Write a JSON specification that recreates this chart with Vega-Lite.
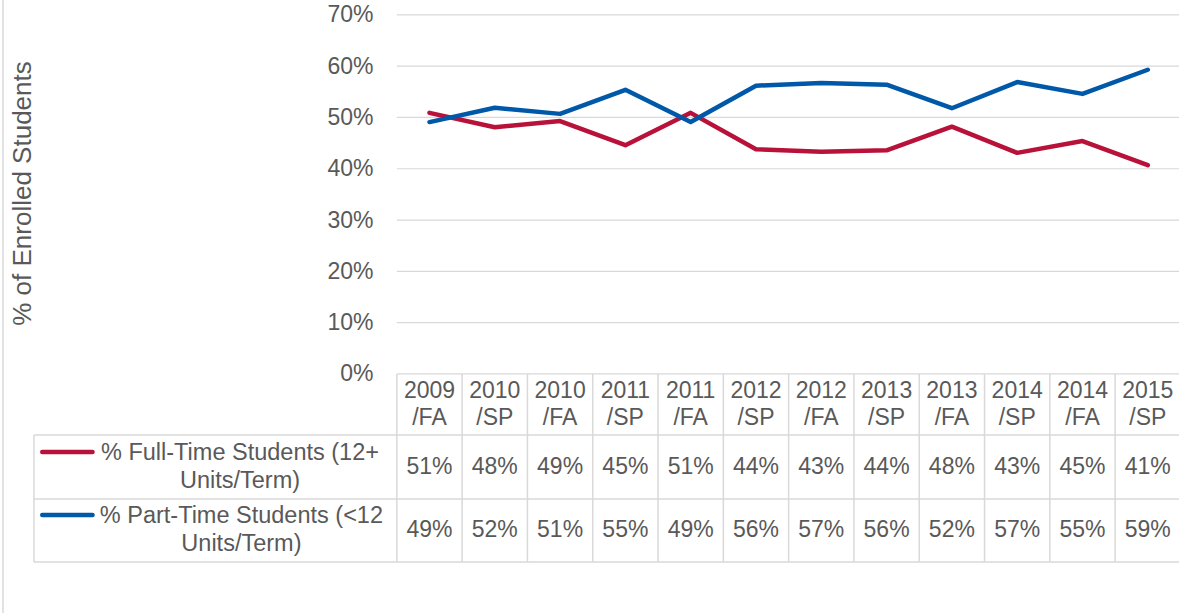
{
  "$schema": "https://vega.github.io/schema/vega-lite/v6.json",
  "width": 1176,
  "height": 613,
  "autosize": {"type": "none"},
  "padding": {"left": 3, "top": 0, "right": 0, "bottom": 0},
  "background": "white",
  "config": {"view": {"stroke": null}, "font": "Liberation Sans"},
  "datasets": {
    "enrollment": [
      {"term": "2009/FA", "idx": 0, "series": "% Full-Time Students (12+ Units/Term)", "value": 0.509},
      {"term": "2010/SP", "idx": 1, "series": "% Full-Time Students (12+ Units/Term)", "value": 0.481},
      {"term": "2010/FA", "idx": 2, "series": "% Full-Time Students (12+ Units/Term)", "value": 0.493},
      {"term": "2011/SP", "idx": 3, "series": "% Full-Time Students (12+ Units/Term)", "value": 0.446},
      {"term": "2011/FA", "idx": 4, "series": "% Full-Time Students (12+ Units/Term)", "value": 0.509},
      {"term": "2012/SP", "idx": 5, "series": "% Full-Time Students (12+ Units/Term)", "value": 0.438},
      {"term": "2012/FA", "idx": 6, "series": "% Full-Time Students (12+ Units/Term)", "value": 0.433},
      {"term": "2013/SP", "idx": 7, "series": "% Full-Time Students (12+ Units/Term)", "value": 0.436},
      {"term": "2013/FA", "idx": 8, "series": "% Full-Time Students (12+ Units/Term)", "value": 0.482},
      {"term": "2014/SP", "idx": 9, "series": "% Full-Time Students (12+ Units/Term)", "value": 0.431},
      {"term": "2014/FA", "idx": 10, "series": "% Full-Time Students (12+ Units/Term)", "value": 0.454},
      {"term": "2015/SP", "idx": 11, "series": "% Full-Time Students (12+ Units/Term)", "value": 0.407},
      {"term": "2009/FA", "idx": 0, "series": "% Part-Time Students (<12 Units/Term)", "value": 0.491},
      {"term": "2010/SP", "idx": 1, "series": "% Part-Time Students (<12 Units/Term)", "value": 0.519},
      {"term": "2010/FA", "idx": 2, "series": "% Part-Time Students (<12 Units/Term)", "value": 0.507},
      {"term": "2011/SP", "idx": 3, "series": "% Part-Time Students (<12 Units/Term)", "value": 0.554},
      {"term": "2011/FA", "idx": 4, "series": "% Part-Time Students (<12 Units/Term)", "value": 0.491},
      {"term": "2012/SP", "idx": 5, "series": "% Part-Time Students (<12 Units/Term)", "value": 0.562},
      {"term": "2012/FA", "idx": 6, "series": "% Part-Time Students (<12 Units/Term)", "value": 0.567},
      {"term": "2013/SP", "idx": 7, "series": "% Part-Time Students (<12 Units/Term)", "value": 0.564},
      {"term": "2013/FA", "idx": 8, "series": "% Part-Time Students (<12 Units/Term)", "value": 0.518},
      {"term": "2014/SP", "idx": 9, "series": "% Part-Time Students (<12 Units/Term)", "value": 0.569},
      {"term": "2014/FA", "idx": 10, "series": "% Part-Time Students (<12 Units/Term)", "value": 0.546},
      {"term": "2015/SP", "idx": 11, "series": "% Part-Time Students (<12 Units/Term)", "value": 0.593}
    ]
  },
  "data": {"name": "enrollment"},
  "layer": [
    {
      "data": {"values": [{"level": 0}, {"level": 0.1}, {"level": 0.2}, {"level": 0.3}, {"level": 0.4}, {"level": 0.5}, {"level": 0.6}, {"level": 0.7}]},
      "mark": {"type": "rule", "color": "#D9D9D9", "strokeWidth": 1.2},
      "encoding": {
        "x": {"datum": -0.5, "type": "quantitative", "scale": {"domain": [-6.531, 11.478], "nice": false, "zero": false}, "axis": null},
        "x2": {"datum": 11.5},
        "y": {
          "field": "level",
          "type": "quantitative",
          "scale": {"domain": [-0.466, 0.729], "nice": false, "zero": false},
          "axis": {
            "title": "% of Enrolled Students",
            "values": [0, 0.1, 0.2, 0.3, 0.4, 0.5, 0.6, 0.7],
            "format": ".0%",
            "offset": -394,
            "ticks": false,
            "domain": false,
            "grid": false,
            "labelPadding": 24,
            "labelFontSize": 23,
            "labelColor": "#595959",
            "labelFont": "Liberation Sans",
            "labelFlush": false,
            "labelOverlap": false,
            "titleFont": "Liberation Sans",
            "titleFontSize": 26,
            "titleFontWeight": "normal",
            "titleColor": "#595959",
            "titleAngle": -90,
            "titleAlign": "center",
            "titleBaseline": "middle",
            "titleX": -375,
            "titleY": 193
          }
        }
      }
    },
    {
      "data": {"values": [{}]},
      "mark": {"type": "rule", "color": "#D9D9D9", "strokeWidth": 1.5},
      "encoding": {
        "x": {"datum": -6.057, "type": "quantitative", "scale": {"domain": [-6.531, 11.478], "nice": false, "zero": false}, "axis": null},
        "x2": {"datum": 11.5},
        "y": {"datum": -0.1189, "type": "quantitative", "scale": {"domain": [-0.466, 0.729], "nice": false, "zero": false}}
      }
    },
    {
      "data": {"values": [{}]},
      "mark": {"type": "rule", "color": "#D9D9D9", "strokeWidth": 1.5},
      "encoding": {
        "x": {"datum": -6.057, "type": "quantitative", "scale": {"domain": [-6.531, 11.478], "nice": false, "zero": false}, "axis": null},
        "x2": {"datum": 11.5},
        "y": {"datum": -0.2437, "type": "quantitative", "scale": {"domain": [-0.466, 0.729], "nice": false, "zero": false}}
      }
    },
    {
      "data": {"values": [{}]},
      "mark": {"type": "rule", "color": "#D9D9D9", "strokeWidth": 1.5},
      "encoding": {
        "x": {"datum": -6.057, "type": "quantitative", "scale": {"domain": [-6.531, 11.478], "nice": false, "zero": false}, "axis": null},
        "x2": {"datum": 11.5},
        "y": {"datum": -0.3665, "type": "quantitative", "scale": {"domain": [-0.466, 0.729], "nice": false, "zero": false}}
      }
    },
    {
      "transform": [
        {"filter": "datum.series === '% Full-Time Students (12+ Units/Term)'"},
        {"calculate": "datum.idx - 0.5", "as": "edge"}
      ],
      "mark": {"type": "rule", "color": "#D9D9D9", "strokeWidth": 1.5},
      "encoding": {
        "x": {"field": "edge", "type": "quantitative", "scale": {"domain": [-6.531, 11.478], "nice": false, "zero": false}, "axis": null},
        "y": {"datum": 0, "type": "quantitative", "scale": {"domain": [-0.466, 0.729], "nice": false, "zero": false}},
        "y2": {"datum": -0.3665}
      }
    },
    {
      "data": {"values": [{}]},
      "mark": {"type": "rule", "color": "#D9D9D9", "strokeWidth": 1.5},
      "encoding": {
        "x": {"datum": -6.057, "type": "quantitative", "scale": {"domain": [-6.531, 11.478], "nice": false, "zero": false}, "axis": null},
        "y": {"datum": -0.1189, "type": "quantitative", "scale": {"domain": [-0.466, 0.729], "nice": false, "zero": false}},
        "y2": {"datum": -0.3665}
      }
    },
    {
      "data": {"values": [{}]},
      "mark": {"type": "rule", "color": "#D9D9D9", "strokeWidth": 1.5},
      "encoding": {
        "x": {"datum": -6.531, "type": "quantitative", "scale": {"domain": [-6.531, 11.478], "nice": false, "zero": false}, "axis": null},
        "y": {"datum": 0.729, "type": "quantitative", "scale": {"domain": [-0.466, 0.729], "nice": false, "zero": false}},
        "y2": {"datum": -0.466}
      }
    },
    {
      "mark": {"type": "line", "strokeWidth": 4.5, "strokeCap": "round", "strokeJoin": "round"},
      "encoding": {
        "x": {"field": "idx", "type": "quantitative", "scale": {"domain": [-6.531, 11.478], "nice": false, "zero": false}, "axis": null},
        "y": {"field": "value", "type": "quantitative", "scale": {"domain": [-0.466, 0.729], "nice": false, "zero": false}},
        "color": {
          "field": "series",
          "type": "nominal",
          "scale": {"domain": ["% Full-Time Students (12+ Units/Term)", "% Part-Time Students (<12 Units/Term)"], "range": ["#B8123A", "#0058A9"]},
          "legend": null
        }
      }
    },
    {
      "transform": [
        {"filter": "datum.series === '% Full-Time Students (12+ Units/Term)'"},
        {"calculate": "replace(datum.term, '/', '\\n/')", "as": "header"}
      ],
      "mark": {"type": "text", "align": "center", "baseline": "middle", "lineBreak": "\n", "lineHeight": 27, "dy": -13.5, "fontSize": 23, "font": "Liberation Sans", "color": "#595959"},
      "encoding": {
        "x": {"field": "idx", "type": "quantitative", "scale": {"domain": [-6.531, 11.478], "nice": false, "zero": false}, "axis": null},
        "y": {"datum": -0.0594, "type": "quantitative", "scale": {"domain": [-0.466, 0.729], "nice": false, "zero": false}},
        "text": {"field": "header"}
      }
    },
    {
      "transform": [{"filter": "datum.series === '% Full-Time Students (12+ Units/Term)'"}],
      "mark": {"type": "text", "align": "center", "baseline": "middle", "fontSize": 23, "font": "Liberation Sans", "color": "#595959"},
      "encoding": {
        "x": {"field": "idx", "type": "quantitative", "scale": {"domain": [-6.531, 11.478], "nice": false, "zero": false}, "axis": null},
        "y": {"datum": -0.1813, "type": "quantitative", "scale": {"domain": [-0.466, 0.729], "nice": false, "zero": false}},
        "text": {"field": "value", "type": "quantitative", "format": ".0%"}
      }
    },
    {
      "transform": [{"filter": "datum.series === '% Part-Time Students (<12 Units/Term)'"}],
      "mark": {"type": "text", "align": "center", "baseline": "middle", "fontSize": 23, "font": "Liberation Sans", "color": "#595959"},
      "encoding": {
        "x": {"field": "idx", "type": "quantitative", "scale": {"domain": [-6.531, 11.478], "nice": false, "zero": false}, "axis": null},
        "y": {"datum": -0.3051, "type": "quantitative", "scale": {"domain": [-0.466, 0.729], "nice": false, "zero": false}},
        "text": {"field": "value", "type": "quantitative", "format": ".0%"}
      }
    },
    {
      "transform": [{"filter": "datum.series === '% Full-Time Students (12+ Units/Term)' && datum.idx === 0"}],
      "mark": {"type": "rule", "strokeWidth": 4.5, "strokeCap": "round"},
      "encoding": {
        "x": {"datum": -5.93, "type": "quantitative", "scale": {"domain": [-6.531, 11.478], "nice": false, "zero": false}, "axis": null},
        "x2": {"datum": -5.16},
        "y": {"datum": -0.152, "type": "quantitative", "scale": {"domain": [-0.466, 0.729], "nice": false, "zero": false}},
        "color": {"field": "series", "type": "nominal", "legend": null}
      }
    },
    {
      "transform": [{"filter": "datum.series === '% Part-Time Students (<12 Units/Term)' && datum.idx === 0"}],
      "mark": {"type": "rule", "strokeWidth": 4.5, "strokeCap": "round"},
      "encoding": {
        "x": {"datum": -5.93, "type": "quantitative", "scale": {"domain": [-6.531, 11.478], "nice": false, "zero": false}, "axis": null},
        "x2": {"datum": -5.16},
        "y": {"datum": -0.2749, "type": "quantitative", "scale": {"domain": [-0.466, 0.729], "nice": false, "zero": false}},
        "color": {"field": "series", "type": "nominal", "legend": null}
      }
    },
    {
      "transform": [
        {"filter": "datum.series === '% Full-Time Students (12+ Units/Term)' && datum.idx === 0"},
        {"calculate": "replace(datum.series, ' Units', '\\nUnits')", "as": "label"}
      ],
      "mark": {"type": "text", "align": "center", "baseline": "middle", "lineBreak": "\n", "lineHeight": 28, "dy": -14, "fontSize": 23.5, "font": "Liberation Sans", "color": "#595959"},
      "encoding": {
        "x": {"datum": -2.902, "type": "quantitative", "scale": {"domain": [-6.531, 11.478], "nice": false, "zero": false}, "axis": null},
        "y": {"datum": -0.1813, "type": "quantitative", "scale": {"domain": [-0.466, 0.729], "nice": false, "zero": false}},
        "text": {"field": "label"}
      }
    },
    {
      "transform": [
        {"filter": "datum.series === '% Part-Time Students (<12 Units/Term)' && datum.idx === 0"},
        {"calculate": "replace(datum.series, ' Units', '\\nUnits')", "as": "label"}
      ],
      "mark": {"type": "text", "align": "center", "baseline": "middle", "lineBreak": "\n", "lineHeight": 28, "dy": -14, "fontSize": 23.5, "font": "Liberation Sans", "color": "#595959"},
      "encoding": {
        "x": {"datum": -2.88, "type": "quantitative", "scale": {"domain": [-6.531, 11.478], "nice": false, "zero": false}, "axis": null},
        "y": {"datum": -0.3051, "type": "quantitative", "scale": {"domain": [-0.466, 0.729], "nice": false, "zero": false}},
        "text": {"field": "label"}
      }
    }
  ]
}
